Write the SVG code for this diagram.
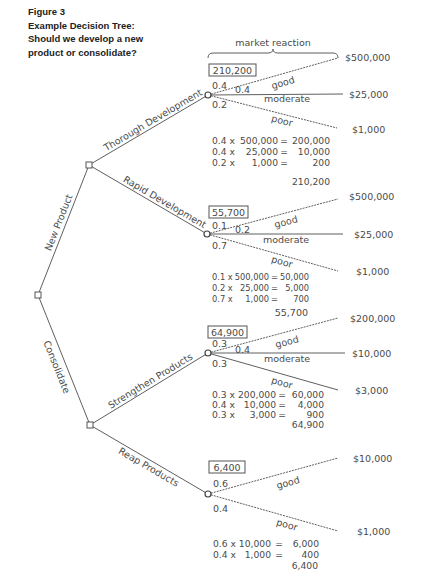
<svg xmlns="http://www.w3.org/2000/svg" width="439" height="572" viewBox="0 0 439 572">
<style>
text{font-family:"DejaVu Sans",Verdana,sans-serif;font-size:9.5px;fill:#4a4a4a}
.title{font-family:"Liberation Sans",Arial,sans-serif;font-weight:bold;font-size:9.5px;fill:#222}
.calc{font-size:9.2px}
.sm{font-size:8.3px}
.m{text-anchor:middle}
.e{text-anchor:end}
.ln{stroke:#5f5f5f;stroke-width:1;fill:none}
.d{stroke-dasharray:2 1}
.dec{fill:#fff;stroke:#555;stroke-width:1}
.ch{fill:#fff;stroke:#444;stroke-width:1.2}
.box{fill:none;stroke:#555;stroke-width:1}
</style>
<rect width="439" height="572" fill="#fff"/>
<g id="title">
<text class="title" x="28" y="14.5">Figure 3</text>
<text class="title" x="28" y="28.5">Example Decision Tree:</text>
<text class="title" x="28" y="41.5">Should we develop a new</text>
<text class="title" x="28" y="55.5">product or consolidate?</text>
</g>
<g id="market-reaction">
<path class="ln" d="M208,58 Q208,53 213,53 L268,53 Q273,53 273,49 Q273,53 278,53 L333,53 Q338,53 338,58"/>
<text class="m" x="273" y="46">market reaction</text>
</g>
<g id="connectors">
<line class="ln" x1="38" y1="295" x2="89" y2="165"/>
<line class="ln" x1="38" y1="295" x2="90" y2="425"/>
<line class="ln" x1="89" y1="165" x2="208" y2="95"/>
<line class="ln" x1="89" y1="165" x2="207" y2="234"/>
<line class="ln" x1="90" y1="425" x2="208" y2="353"/>
<line class="ln" x1="90" y1="425" x2="208" y2="494"/>
<line class="ln d" x1="208" y1="95" x2="338" y2="58"/>
<line class="ln" x1="208" y1="95" x2="343" y2="94"/>
<line class="ln d" x1="208" y1="95" x2="337" y2="128"/>
<line class="ln d" x1="207" y1="234" x2="338" y2="199"/>
<line class="ln" x1="207" y1="234" x2="343" y2="234"/>
<line class="ln d" x1="207" y1="234" x2="338" y2="271"/>
<line class="ln d" x1="208" y1="353" x2="338" y2="318"/>
<line class="ln" x1="208" y1="353" x2="345" y2="353"/>
<line class="ln" x1="208" y1="353" x2="338" y2="390"/>
<line class="ln d" x1="208" y1="494" x2="338" y2="458"/>
<line class="ln d" x1="208" y1="494" x2="338" y2="531"/>
<text class="m" transform="translate(58.5,222.5) rotate(-68.6)" y="3.5">New Product</text>
<text class="m" transform="translate(57,367) rotate(68.2)" y="3.5">Consolidate</text>
<text class="e" transform="translate(89,165) rotate(-30.5)" x="134" y="-3">Thorough Development</text>
<text class="e" transform="translate(89,165) rotate(30.3)" x="131" y="-3">Rapid Development</text>
<text transform="translate(90,425) rotate(-31.4)" x="26" y="-3">Strengthen Products</text>
<text class="m" transform="translate(90,425) rotate(30.3)" x="72" y="10">Reap Products</text>
<text class="m" transform="translate(283,83) rotate(-16)" y="3">good</text>
<text class="m" x="287" y="101.5">moderate</text>
<text class="m" transform="translate(282,121) rotate(14.4)" y="3">poor</text>
<text class="m" transform="translate(286,222) rotate(-15)" y="3">good</text>
<text class="m" x="286" y="243">moderate</text>
<text class="m" transform="translate(282,262) rotate(15.8)" y="3">poor</text>
<text class="m" transform="translate(287,342) rotate(-15)" y="3">good</text>
<text class="m" x="287" y="362">moderate</text>
<text class="m" transform="translate(282,383) rotate(15.9)" y="3">poor</text>
<text class="m" transform="translate(288,483) rotate(-15.5)" y="3">good</text>
<text class="m" transform="translate(287,525) rotate(15.9)" y="3">poor</text>
</g>
<g id="root"><rect class="dec" x="35" y="292" width="6" height="6"/></g>
<g id="new-product"><rect class="dec" x="86" y="162" width="6" height="6"/></g>
<g id="consolidate"><rect class="dec" x="87" y="422" width="6" height="6"/></g>
<g id="thorough">
<circle class="ch" cx="208" cy="95" r="3"/>
<rect class="box" x="209" y="64" width="47" height="12"/>
<text class="m" x="232.5" y="73.5">210,200</text>
<text x="212" y="88.5">0.4</text>
<text x="235" y="93">0.4</text>
<text x="212" y="107.5">0.2</text>
<text x="345" y="60.5">$500,000</text>
<text x="349" y="97.5">$25,000</text>
<text x="352" y="132.5">$1,000</text>
<text class="calc" x="212" y="143.5">0.4 x</text><text class="calc e" x="278" y="143.5">500,000</text><text class="calc m" x="284" y="143.5">=</text><text class="calc e" x="330" y="143.5">200,000</text>
<text class="calc" x="212" y="154.5">0.4 x</text><text class="calc e" x="278" y="154.5">25,000</text><text class="calc m" x="284" y="154.5">=</text><text class="calc e" x="330" y="154.5">10,000</text>
<text class="calc" x="212" y="165.5">0.2 x</text><text class="calc e" x="278" y="165.5">1,000</text><text class="calc m" x="284" y="165.5">=</text><text class="calc e" x="330" y="165.5">200</text>
<text class="calc e" x="330" y="184.5">210,200</text>
</g>
<g id="rapid">
<circle class="ch" cx="207" cy="234" r="3"/>
<rect class="box" x="209" y="206" width="39" height="12"/>
<text class="m" x="228.5" y="215.5">55,700</text>
<text x="212" y="228.5">0.1</text>
<text x="235" y="233">0.2</text>
<text x="212" y="248.5">0.7</text>
<text x="349" y="199.5">$500,000</text>
<text x="354" y="237.5">$25,000</text>
<text x="356" y="274.5">$1,000</text>
<text class="sm" x="212" y="280">0.1 x</text><text class="sm e" x="269" y="280">500,000</text><text class="sm m" x="274.5" y="280">=</text><text class="sm e" x="309" y="280">50,000</text>
<text class="sm" x="212" y="291">0.2 x</text><text class="sm e" x="269" y="291">25,000</text><text class="sm m" x="274.5" y="291">=</text><text class="sm e" x="309" y="291">5,000</text>
<text class="sm" x="212" y="301.5">0.7 x</text><text class="sm e" x="269" y="301.5">1,000</text><text class="sm m" x="274.5" y="301.5">=</text><text class="sm e" x="309" y="301.5">700</text>
<text class="e" x="308" y="315.5">55,700</text>
</g>
<g id="strengthen">
<circle class="ch" cx="208" cy="353" r="3"/>
<rect class="box" x="208" y="326" width="39" height="12"/>
<text class="m" x="227.5" y="335.5">64,900</text>
<text x="212" y="346.5">0.3</text>
<text x="235" y="352.5">0.4</text>
<text x="212" y="366.5">0.3</text>
<text x="350" y="321.5">$200,000</text>
<text x="352" y="356.5">$10,000</text>
<text x="355" y="393.5">$3,000</text>
<text class="calc" x="212" y="397.5">0.3 x</text><text class="calc e" x="276" y="397.5">200,000</text><text class="calc m" x="282" y="397.5">=</text><text class="calc e" x="324" y="397.5">60,000</text>
<text class="calc" x="212" y="408">0.4 x</text><text class="calc e" x="276" y="408">10,000</text><text class="calc m" x="282" y="408">=</text><text class="calc e" x="324" y="408">4,000</text>
<text class="calc" x="212" y="418">0.3 x</text><text class="calc e" x="276" y="418">3,000</text><text class="calc m" x="282" y="418">=</text><text class="calc e" x="324" y="418">900</text>
<text class="calc e" x="324" y="428">64,900</text>
</g>
<g id="reap">
<circle class="ch" cx="208" cy="494" r="3"/>
<rect class="box" x="209" y="461" width="36" height="12"/>
<text class="m" x="227" y="470.5">6,400</text>
<text x="213" y="486.5">0.6</text>
<text x="213" y="511.5">0.4</text>
<text x="353" y="461.5">$10,000</text>
<text x="357" y="534.5">$1,000</text>
<text class="calc" x="213" y="546.5">0.6 x</text><text class="calc e" x="271" y="546.5">10,000</text><text class="calc m" x="279" y="546.5">=</text><text class="calc e" x="319" y="546.5">6,000</text>
<text class="calc" x="213" y="558">0.4 x</text><text class="calc e" x="271" y="558">1,000</text><text class="calc m" x="279" y="558">=</text><text class="calc e" x="319" y="558">400</text>
<text class="calc e" x="318" y="568.5">6,400</text>
</g>
</svg>
